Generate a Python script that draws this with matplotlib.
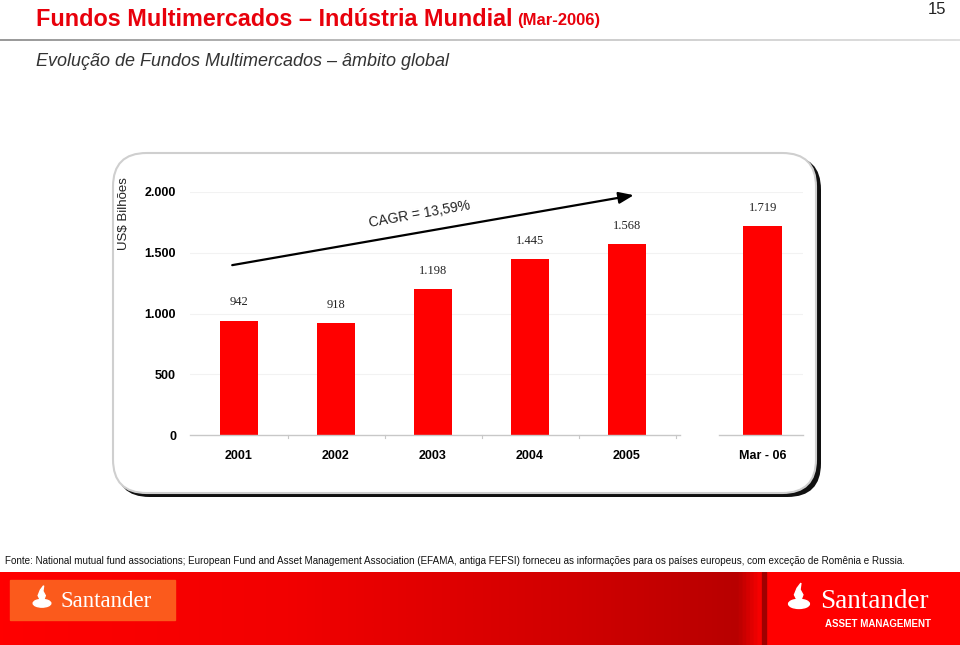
import matplotlib
matplotlib.use("Agg")
import matplotlib.pyplot as plt
import numpy as np
from matplotlib.patches import FancyBboxPatch, Rectangle, Ellipse, Polygon
from matplotlib.colors import LinearSegmentedColormap

# ---- data ----
categories = ["2001", "2002", "2003", "2004", "2005", "Mar - 06"]
values = [942, 918, 1198, 1445, 1568, 1719]
value_labels = ["942", "918", "1.198", "1.445", "1.568", "1.719"]
yticks = [0, 500, 1000, 1500, 2000]
ytick_labels = ["0", "500", "1.000", "1.500", "2.000"]
cagr_text = "CAGR = 13,59%"

positions = [0, 1, 2, 3, 4, 5.4]

W, H = 960, 645
fig = plt.figure(figsize=(W / 100, H / 100), dpi=100)
fig.patch.set_facecolor("white")

def fx(px):
    return px / W

def fy(py):
    return 1 - py / H

SANS = ["Liberation Sans", "DejaVu Sans"]
SERIF = ["Liberation Serif", "DejaVu Serif"]

# ---- header ----
t1 = fig.text(fx(36), fy(20), "Fundos Multimercados – Indústria Mundial",
              color="#e8000b", fontsize=16.8, fontweight="bold", family=SANS,
              va="center", ha="left")
fig.canvas.draw()
bb = t1.get_window_extent(renderer=fig.canvas.get_renderer())
fig.text(bb.x1 / W + fx(5), fy(21), "(Mar-2006)", color="#e8000b", fontsize=12,
         fontweight="bold", family=SANS, va="center", ha="left")
fig.text(fx(946), fy(10), "15", color="#222222", fontsize=12, family=SANS,
         va="center", ha="right")

# separator line with gradient
line_ax = fig.add_axes([0, fy(41), 1, 2 / H])
line_ax.axis("off")
grad = np.linspace(0, 1, 256).reshape(1, -1)
cm_line = LinearSegmentedColormap.from_list("l", ["#9a9a9a", "#c8c8c8", "#e0e0e0"])
line_ax.imshow(grad, aspect="auto", cmap=cm_line, extent=[0, 1, 0, 1])

fig.text(fx(36), fy(62), "Evolução de Fundos Multimercados – âmbito global",
         color="#333333", fontsize=13, style="italic", family=SANS,
         va="center", ha="left")

# ---- chart panel ----
shadow = FancyBboxPatch((fx(116), fy(497)), fx(821) - fx(116), fy(156) - fy(497),
                        boxstyle="round,pad=0,rounding_size=0.035",
                        transform=fig.transFigure, facecolor="#111111",
                        edgecolor="none", zorder=0, mutation_aspect=W / H)
fig.patches.append(shadow)
panel = FancyBboxPatch((fx(113), fy(493)), fx(816) - fx(113), fy(153) - fy(493),
                       boxstyle="round,pad=0,rounding_size=0.035",
                       transform=fig.transFigure, facecolor="white",
                       edgecolor="#cfcfcf", linewidth=1.5, zorder=1,
                       mutation_aspect=W / H)
fig.patches.append(panel)

# ---- axes ----
unit = 97.0
x0px = 239.0
left_px, right_px = 190.0, 803.0
ax = fig.add_axes([fx(left_px), fy(435), fx(right_px) - fx(left_px), fy(192) - fy(435)])
ax.set_zorder(2)
ax.patch.set_alpha(0)
ax.set_xlim((left_px - x0px) / unit, (right_px - x0px) / unit)
ax.set_ylim(0, 2000)

ax.bar(positions, values, width=0.4, color="#ff0000", zorder=3)
for p, v, lab in zip(positions, values, value_labels):
    ax.annotate(lab, (p, v), xytext=(0, 13), textcoords="offset points",
                ha="center", va="center", fontsize=9, family=SERIF,
                color="#222222")

for s in ax.spines.values():
    s.set_visible(False)
ax.set_yticks(yticks)
ax.set_yticklabels(ytick_labels, family=SANS, fontweight="bold", fontsize=9)
ax.tick_params(axis="y", length=0, pad=10)
ax.set_xticks(positions)
ax.set_xticklabels(categories, family=SANS, fontweight="bold", fontsize=9)
ax.tick_params(axis="x", length=0, pad=11)
for t in yticks[1:]:
    ax.axhline(t, color="#f2f2f2", linewidth=0.8, zorder=1)

# baseline in two pieces with boundary ticks
xl = ax.get_xlim()
ax.plot([xl[0], 4.55], [0, 0], color="#c8c8c8", linewidth=1, zorder=4, clip_on=False)
ax.plot([4.95, xl[1]], [0, 0], color="#c8c8c8", linewidth=1, zorder=4, clip_on=False)
for b in [0.5, 1.5, 2.5, 3.5, 4.5]:
    ax.plot([b, b], [0, -25], color="#c8c8c8", linewidth=0.8, clip_on=False)

ax.set_ylabel("US$ Bilhões", family=SANS, fontsize=9.5, color="#222222")
ax.yaxis.set_label_coords(fx(130 - left_px) / (fx(right_px) - fx(left_px)), 0.91)

# CAGR arrow
ax.annotate("", xy=(4.07, 1974), xytext=(-0.07, 1398),
            arrowprops=dict(arrowstyle="-|>,head_length=0.9,head_width=0.35",
                            color="black", lw=1.6, shrinkA=0, shrinkB=0),
            annotation_clip=False)
ax.text(1.86, 1820, cagr_text, rotation=10, ha="center", va="center",
        fontsize=10, family=SANS, color="#222222", rotation_mode="anchor")

# ---- footnote ----
fig.text(fx(5), fy(561),
         "Fonte: National mutual fund associations; European Fund and Asset Management "
         "Association (EFAMA, antiga FEFSI) forneceu as informações para os países europeus, "
         "com exceção de Romênia e Russia.",
         fontsize=7.1, family=SANS, color="#111111", va="center", ha="left")

# ---- footer band ----
foot = fig.add_axes([0, 0, 1, fy(572)])
foot.set_xlim(0, W)
foot.set_ylim(645, 572)
foot.axis("off")
cm_foot = LinearSegmentedColormap.from_list(
    "f", [(0, "#ff0000"), (0.3, "#f20000"), (0.6, "#d00000"), (0.77, "#b80000"),
          (0.795, "#ff0000"), (1, "#ff0000")])
foot.imshow(np.linspace(0, 1, 512).reshape(1, -1), aspect="auto", cmap=cm_foot,
            extent=[0, W, 645, 572])
foot.add_patch(Rectangle((762, 572), 4, 73, color="#a00000", zorder=2))

def flame(axh, cx, cy, s):
    axh.add_patch(Ellipse((cx, cy + 3 * s), 16 * s, 7 * s, color="white", zorder=5))
    pts = [(cx - 1.5 * s, cy + 0 * s), (cx - 3.5 * s, cy - 4 * s), (cx - 1.5 * s, cy - 9 * s),
           (cx + 1.5 * s, cy - 13 * s), (cx + 0.8 * s, cy - 8 * s), (cx + 3 * s, cy - 4 * s),
           (cx + 1.5 * s, cy + 0 * s)]
    axh.add_patch(Polygon(pts, closed=True, color="white", zorder=5))

# left logo
foot.add_patch(Rectangle((10, 580), 165, 40, color="#fb5a1c", zorder=3))
flame(foot, 42, 600, 1.1)
foot.text(61, 601, "Santander", color="white", fontsize=16.5, family=SERIF,
          va="center", ha="left", zorder=5)

# right logo
flame(foot, 799, 600, 1.3)
foot.text(820, 601, "Santander", color="white", fontsize=19.5, family=SERIF,
          va="center", ha="left", zorder=5)
foot.text(825, 624, "ASSET MANAGEMENT", color="white", fontsize=7, family=SANS,
          fontweight="bold", va="center", ha="left", zorder=5)

fig.savefig("out.png", dpi=100)
